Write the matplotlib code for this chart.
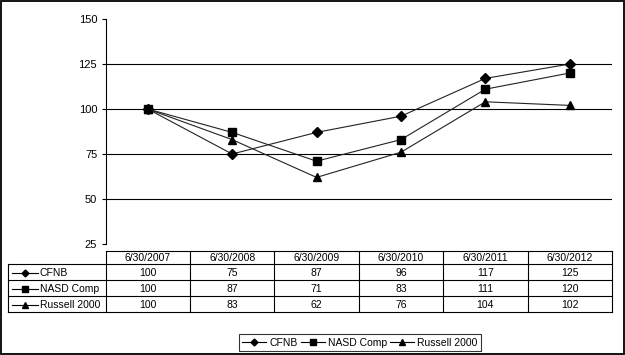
import matplotlib.pyplot as plt
from matplotlib.lines import Line2D
from matplotlib.patches import Rectangle

plt.rcParams['font.family'] = ['Liberation Sans', 'DejaVu Sans']

# data
dates = ['6/30/2007', '6/30/2008', '6/30/2009', '6/30/2010', '6/30/2011', '6/30/2012']
names = ['CFNB', 'NASD Comp', 'Russell 2000']
cfnb = [100, 75, 87, 96, 117, 125]
nasd = [100, 87, 71, 83, 111, 120]
russell = [100, 83, 62, 76, 104, 102]
series = [cfnb, nasd, russell]
markers = ['D', 's', '^']
msizes = [5, 5.5, 6]
yticks = [25, 50, 75, 100, 125, 150]

W, H = 625, 355
fig = plt.figure(figsize=(W / 100, H / 100), dpi=100)

# overlay in pixel coords for frame + data table
ov = fig.add_axes([0, 0, 1, 1])
ov.set_xlim(0, W)
ov.set_ylim(H, 0)
ov.axis('off')
ov.add_patch(Rectangle((1, 1), W - 2.5, H - 2.5, fill=False, lw=1.3, ec='black'))

# plot area
x0, x1 = 105.5, 612
ytop, ybot = 19, 244
ax = fig.add_axes([x0 / W, (H - ybot) / H, (x1 - x0) / W, (ybot - ytop) / H])
ax.set_xlim(-0.5, len(dates) - 0.5)
ax.set_ylim(25, 150)
ax.set_yticks(yticks)
ax.tick_params(axis='y', direction='out', length=3, width=0.8, pad=3, labelsize=8)
ax.set_xticks([])
for s in ['top', 'right', 'bottom']:
    ax.spines[s].set_visible(False)
ax.spines['left'].set_linewidth(0.8)
ax.patch.set_alpha(0)
for g in yticks[1:-1]:
    ax.axhline(g, color='black', lw=0.8, zorder=1)

xs = range(len(dates))
for vals, m, ms, nm in zip(series, markers, msizes, names):
    ax.plot(xs, vals, color='#222222', lw=0.8, marker=m, ms=ms,
            mfc='black', mec='black', label=nm, zorder=3)

# data table
lab_l = 8
col_w = (x1 - x0) / len(dates)
rows_y = [251, 264, 280, 296, 312]
lw = 0.8
# header row (only data columns)
ov.plot([x0, x1], [rows_y[0], rows_y[0]], color='black', lw=lw)
for y in rows_y[1:]:
    ov.plot([lab_l, x1], [y, y], color='black', lw=lw)
ov.plot([lab_l, lab_l], [rows_y[1], rows_y[-1]], color='black', lw=lw)
for i in range(len(dates) + 1):
    xc = x0 + i * col_w
    ov.plot([xc, xc], [rows_y[0], rows_y[-1]], color='black', lw=lw)

fs = 7.5
for i, d in enumerate(dates):
    ov.text(x0 + (i + 0.5) * col_w, (rows_y[0] + rows_y[1]) / 2 + 0.5, d,
            ha='center', va='center', fontsize=fs)
for r, (vals, m, ms, nm) in enumerate(zip(series, markers, msizes, names)):
    yc = (rows_y[r + 1] + rows_y[r + 2]) / 2 + 0.5
    ov.plot([12, 38], [yc, yc], color='black', lw=lw)
    ov.plot([25], [yc], marker=m, ms=ms * 0.7, color='black')
    ov.text(40, yc, nm, ha='left', va='center', fontsize=fs)
    for i, v in enumerate(vals):
        ov.text(x0 + (i + 0.5) * col_w, yc, str(v), ha='center', va='center', fontsize=fs)

# legend
handles = [Line2D([], [], color='black', lw=lw, marker=m, ms=ms * 0.7)
           for m, ms in zip(markers, msizes)]
leg = fig.legend(handles, names, loc='center', ncol=3,
                 bbox_to_anchor=(360 / W, 1 - 342.5 / H), fontsize=fs,
                 frameon=True, fancybox=False, edgecolor='black',
                 handlelength=2.3, handletextpad=0.3, columnspacing=0.3,
                 borderpad=0.35, borderaxespad=0)
leg.get_frame().set_linewidth(0.8)

fig.savefig('out.png', dpi=100)
